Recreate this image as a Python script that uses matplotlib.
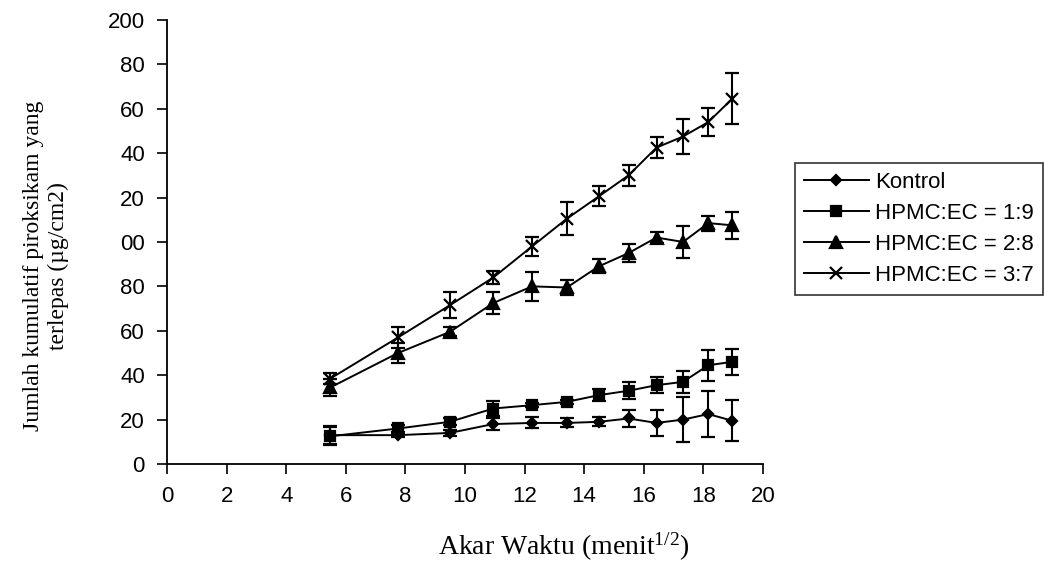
import matplotlib.pyplot as plt
from matplotlib.lines import Line2D

# akar waktu (menit^1/2) dan jumlah kumulatif piroksikam terlepas (ug/cm2)
akar_waktu = [5.48, 7.75, 9.49, 10.95, 12.25, 13.42, 14.49, 15.49, 16.43, 17.32, 18.17, 18.97]

kontrol = [13, 13, 14, 18, 18.5, 18.5, 19, 20.5, 18.5, 20, 22.5, 19.5]
kontrol_sd = [4, 1, 1.5, 2.6, 2.5, 2, 2, 3.8, 5.9, 10, 10.5, 9.3]

hpmc_19 = [12.5, 16, 19, 25, 26.5, 28, 31, 33, 35.5, 37, 44.5, 46]
hpmc_19_sd = [4, 1.5, 1.5, 3.4, 1, 1, 2.6, 3.9, 3.7, 4.9, 7, 6]

hpmc_28 = [34.5, 50, 59.5, 72.5, 80, 79.5, 89, 95, 102, 100, 108.5, 107.5]
hpmc_28_sd = [3.7, 4.4, 2, 4.8, 6.6, 3.4, 3.2, 4, 2.3, 7.3, 3.4, 6]

hpmc_37 = [38.5, 57, 71.5, 84, 98, 110.5, 120.5, 130, 142.5, 147.5, 154, 164.5]
hpmc_37_sd = [2.4, 4.9, 5.8, 3, 4.1, 7.5, 4.5, 4.7, 4.7, 7.7, 6.4, 11.5]

y_ticks = [0, 20, 40, 60, 80, 100, 120, 140, 160, 180, 200]
y_ticklabels = ['0', '20', '40', '60', '80', '00', '20', '40', '60', '80', '200']
x_ticks = [0, 2, 4, 6, 8, 10, 12, 14, 16, 18, 20]

fig = plt.figure(figsize=(10.45, 5.69), dpi=100)
ax = fig.add_axes([0.160, 0.1845, 0.570, 0.7805])

series = [
    (kontrol, kontrol_sd, 'D', 5, 'Kontrol'),
    (hpmc_19, hpmc_19_sd, 's', 7, 'HPMC:EC = 1:9'),
    (hpmc_28, hpmc_28_sd, '^', 8, 'HPMC:EC = 2:8'),
    (hpmc_37, hpmc_37_sd, 'x', 8, 'HPMC:EC = 3:7'),
]
handles = []
for y, sd, m, ms, lab in series:
    ax.errorbar(akar_waktu, y, yerr=sd, color='black', marker=m, markersize=ms,
                markeredgewidth=1.6, linewidth=1.4, elinewidth=1.5,
                capsize=5, capthick=2)
    # legend entry shows only line + marker
    handles.append(Line2D([], [], color='black', marker=m, markersize=ms,
                          markeredgewidth=1.6, linewidth=1.4, label=lab))

ax.set_xlim(0, 20)
ax.set_ylim(0, 200)
ax.set_xticks(x_ticks)
ax.set_yticks(y_ticks)
ax.set_yticklabels(y_ticklabels)
ax.spines['top'].set_visible(False)
ax.spines['right'].set_visible(False)
ax.spines['left'].set_linewidth(1.3)
ax.spines['bottom'].set_linewidth(1.3)
ax.tick_params(direction='out', length=7, width=1.2, pad=9, labelsize=16)
for t in ax.get_xticklabels() + ax.get_yticklabels():
    t.set_fontfamily('Liberation Sans')

fig.text(0.539, 0.039, 'Akar Waktu (menit$\\mathregular{^{1/2}}$)',
         family='Liberation Serif', fontsize=20, ha='center', va='center')
fig.text(0.044, 0.532, 'Jumlah kumulatif piroksikam yang\nterlepas (\u00b5g/cm2)',
         family='Liberation Serif', fontsize=17, rotation=90,
         ha='center', va='center', multialignment='center', linespacing=1.25)

leg = fig.legend(handles=handles, loc='upper left', bbox_to_anchor=(0.761, 0.713),
                 frameon=True, fancybox=False, edgecolor='black',
                 prop={'family': 'Liberation Sans', 'size': 16},
                 handlelength=2.9, handletextpad=0.3, labelspacing=0.45,
                 borderpad=0.4, borderaxespad=0)
leg.get_frame().set_linewidth(1.2)

fig.savefig('out.png', dpi=100)
